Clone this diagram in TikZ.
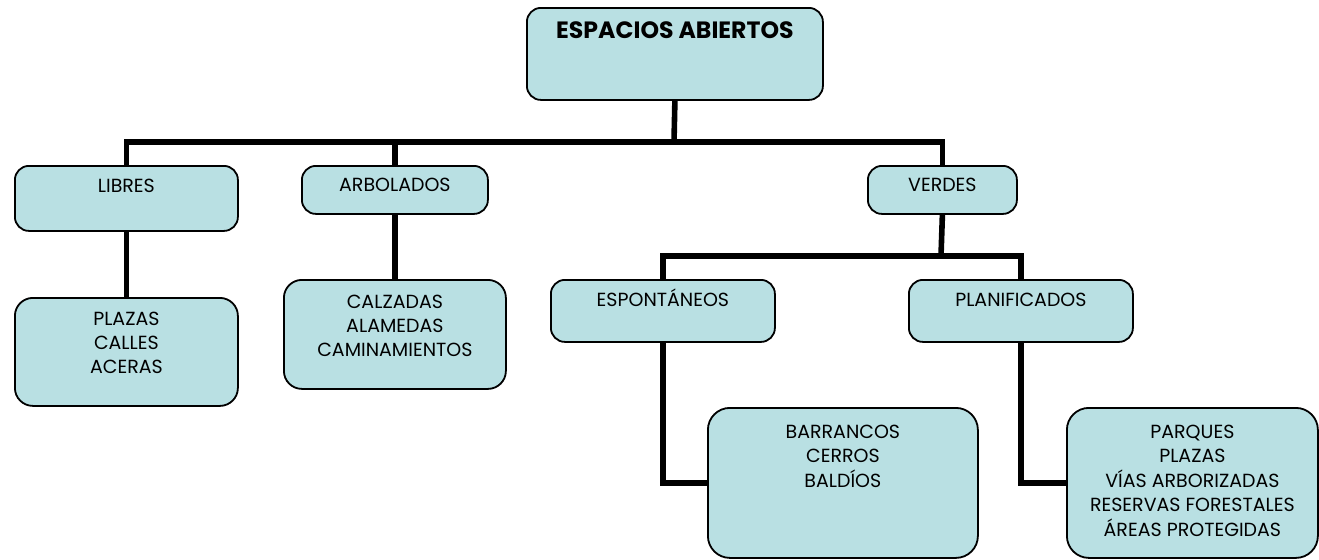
\documentclass[tikz,border=0pt]{standalone}
\usepackage{fontspec}
\setmainfont{Poppins}
\definecolor{boxfill}{RGB}{185,224,227}
\newcommand{\lines}[1]{\begin{tabular}[t]{@{}c@{}}#1\end{tabular}}

\begin{document}
\begin{tikzpicture}[x=0.5pt, y=-0.5pt,
  box/.style={draw, line width=0.9pt, fill=boxfill, rounded corners=7pt, inner sep=0pt,
    anchor=north west, font=\fontsize{9.5}{12}\selectfont},
  link/.style={line width=2.8pt}]

\useasboundingbox (0,0) rectangle (1319,559);

% top level
\node [box, font=\bfseries\fontsize{11.8}{14}\selectfont, minimum width=148pt,
  text height=15.5pt, text depth=30.5pt] (root) at (526,7) {ESPACIOS ABIERTOS};

% second level
\node [box, minimum width=111.5pt, text height=13.5pt, text depth=19pt] (libres) at (14,165) {LIBRES};
\node [box, minimum width=93pt, text height=13pt, text depth=11pt] (arbolados) at (301,165) {ARBOLADOS};
\node [box, minimum width=74.5pt, text height=13pt, text depth=11pt] (verdes) at (867,165) {VERDES};

\node [box, minimum width=112pt, text height=13.5pt, text depth=17.5pt] (espontaneos) at (550,279) {ESPONTÁNEOS};
\node [box, minimum width=112pt, text height=13.5pt, text depth=17.5pt] (planificados) at (908,279) {PLANIFICADOS};

% leaves
\node [box, rounded corners=9pt, minimum width=111.5pt, text height=14pt, text depth=40pt]
  (plazas) at (14,297) {\lines{PLAZAS\\CALLES\\ACERAS}};
\node [box, rounded corners=9pt, minimum width=111pt, text height=14.5pt, text depth=40pt]
  (calzadas) at (283,279) {\lines{CALZADAS\\ALAMEDAS\\CAMINAMIENTOS}};
\node [box, rounded corners=11pt, minimum width=135pt, text height=15.5pt, text depth=59.5pt]
  (barrancos) at (707,407) {\lines{BARRANCOS\\CERROS\\BALDÍOS}};
\node [box, rounded corners=11pt, minimum width=125.5pt, text height=15.5pt, text depth=59.5pt]
  (parques) at (1066,407) {\lines{PARQUES\\PLAZAS\\VÍAS ARBORIZADAS\\RESERVAS FORESTALES\\ÁREAS PROTEGIDAS}};

\coordinate (bus) at (674,142);
\coordinate (vbus) at (941,256);

\draw [link] (root.south) -- (bus);
\draw [link] (libres.north) |- (bus) -| (verdes.north);
\draw [link] (arbolados.north) -- (arbolados.north |- bus);
\draw [link] (libres.south) -- (plazas.north);
\draw [link] (arbolados.south) -- (calzadas.north);

\draw [link] (verdes.south) -- (vbus);
\draw [link] (espontaneos.north) |- (vbus) -| (planificados.north);
\draw [link] (espontaneos.south) |- (barrancos.west);
\draw [link] (planificados.south) |- (parques.west);

\end{tikzpicture}
\end{document}
